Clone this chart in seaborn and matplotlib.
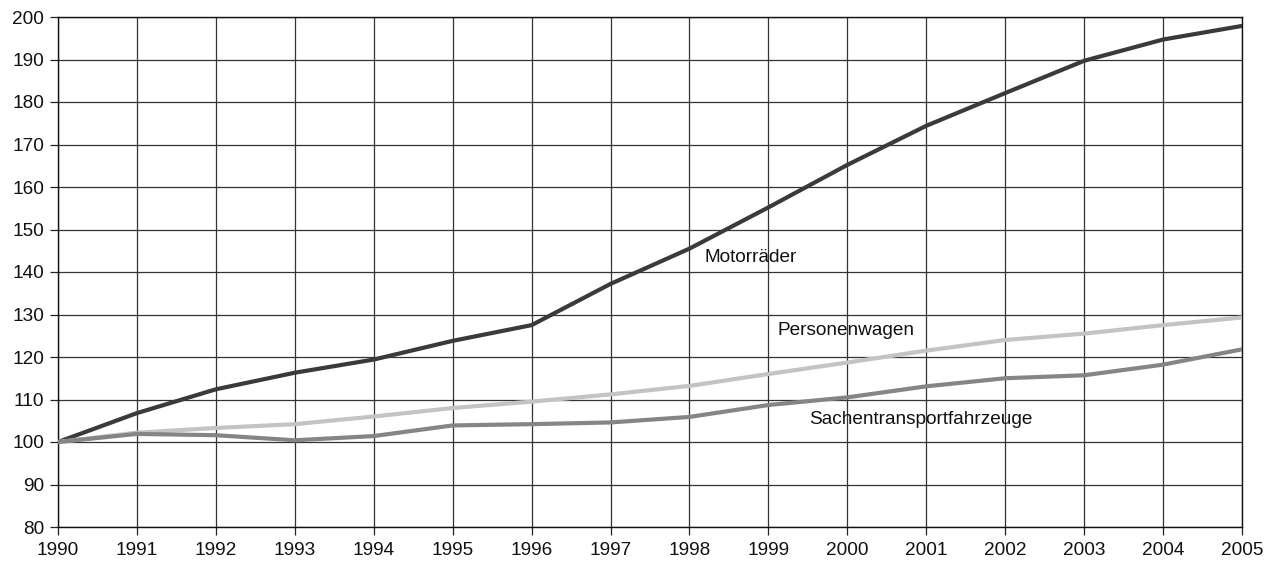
import numpy as np
import pandas as pd
import matplotlib
matplotlib.use("Agg")
import matplotlib.pyplot as plt
import seaborn as sns

years = list(range(1990, 2006))
motorraeder = [100, 106.8, 112.4, 116.3, 119.4, 123.8, 127.5, 137.2, 145.5, 155.2,
               165.2, 174.4, 182.1, 189.7, 194.7, 197.9]
personenwagen = [100, 102.2, 103.3, 104.2, 106.0, 108.0, 109.5, 111.2, 113.2, 116.0,
                 118.7, 121.5, 124.0, 125.5, 127.5, 129.3]
sachentransport = [100, 101.9, 101.6, 100.4, 101.4, 103.9, 104.2, 104.6, 105.9, 108.7,
                   110.5, 113.1, 115.0, 115.7, 118.2, 121.8]
series_names = ["Motorräder", "Personenwagen", "Sachentransportfahrzeuge"]
yticks = list(range(80, 201, 10))

df = pd.DataFrame({
    "Jahr": years * 3,
    "Wert": motorraeder + personenwagen + sachentransport,
    "Serie": [series_names[0]] * 16 + [series_names[1]] * 16 + [series_names[2]] * 16,
})

sns.set_style("white")
plt.rcParams["font.family"] = ["Liberation Sans", "DejaVu Sans"]

fig = plt.figure(figsize=(12.73, 5.63), dpi=100)
ax = fig.add_axes([58 / 1273, 1 - 527 / 563, (1242 - 58) / 1273, (527 - 17) / 563])

palette = {series_names[0]: "#3a3a3a", series_names[1]: "#c3c3c3", series_names[2]: "#858585"}
sns.lineplot(data=df, x="Jahr", y="Wert", hue="Serie", palette=palette,
             linewidth=3.0, ax=ax, legend=False, zorder=3)

fs = 13.7
ax.set_xlim(1990, 2005)
ax.set_ylim(80, 200)
ax.set_xticks(years)
ax.set_yticks(yticks)
ax.set_xticklabels([str(y) for y in years], fontsize=fs)
ax.set_yticklabels([str(v) for v in yticks], fontsize=fs)
ax.set_xlabel("")
ax.set_ylabel("")
ax.grid(True, color="#333333", linewidth=0.9, zorder=0)
ax.set_axisbelow(True)
for s in ax.spines.values():
    s.set_color("#111111")
    s.set_linewidth(1.0)
ax.tick_params(axis="both", direction="out", length=5.5, width=0.9, color="#222222",
               bottom=True, left=True, labelcolor="#111111")
ax.tick_params(axis="y", pad=4.5)
ax.tick_params(axis="x", pad=5)

ax.text(1998.19, 143.5, "Motorräder", fontsize=fs, ha="left", va="center", color="#111111")
ax.text(1999.11, 126.2, "Personenwagen", fontsize=fs, ha="left", va="center", color="#111111")
ax.text(1999.52, 105.2, "Sachentransportfahrzeuge", fontsize=fs, ha="left", va="center", color="#111111")

fig.savefig("out.png", dpi=100)
